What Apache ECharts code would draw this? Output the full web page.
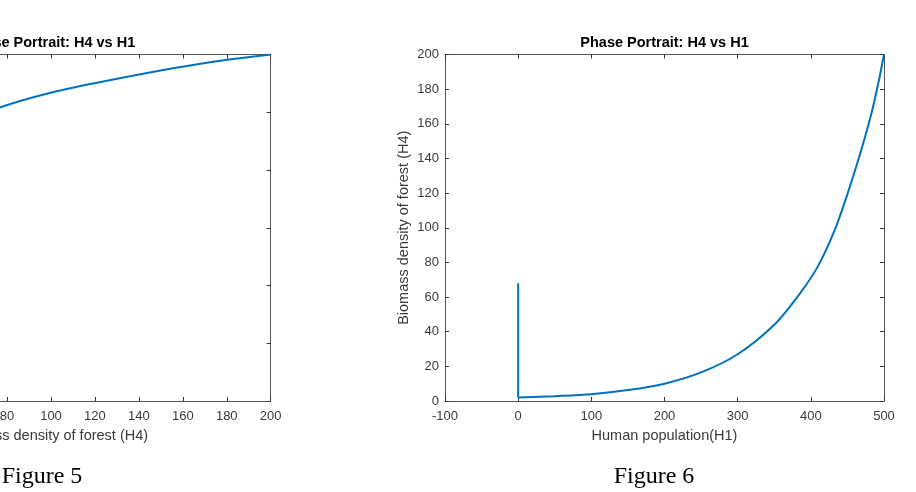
<!DOCTYPE html>
<html>
<head>
<meta charset="utf-8">
<script src="https://cdn.jsdelivr.net/npm/echarts@6/dist/echarts.min.js"></script>
<style>
  html, body { margin: 0; padding: 0; background: #fff; }
  #main { width: 916px; height: 492px; }
</style>
</head>
<body>
<div id="main"></div>
<script>
// values (H1 = human population, H4 = forest biomass)
var h1Drop = [0, 0];
var h4Drop = [68, 2];
var h1Curve = [0, 50, 100, 150, 200, 250, 300, 350, 385, 410, 433, 452, 469, 484, 493, 500];
var h4Curve = [2, 2.8, 3.9, 6.3, 10, 16.5, 27, 44, 62, 78, 99, 122, 145, 168, 185, 200];

var h1Ticks = { min: -100, max: 500, interval: 100 };
var h4Ticks = { min: 0, max: 200, interval: 20 };

var lineColor = '#0072BD';
var axisColor = '#555';
var labelColor = '#3a3a3a';
var sans = 'Liberation Sans, Arial, sans-serif';

var chart = echarts.init(document.getElementById('main'));

function pairs(xs, ys) {
    var out = [];
    for (var i = 0; i < xs.length; i++) out.push([xs[i], ys[i]]);
    return out;
}

// one axis of the boxed MATLAB-like frame
function makeAxis(grid, pos, range, withLabels, name, nameGap) {
    var ax = {
        type: 'value',
        gridIndex: grid,
        position: pos,
        min: range.min,
        max: range.max,
        interval: range.interval,
        splitLine: { show: false },
        axisLine: { show: true, onZero: false, lineStyle: { color: axisColor, width: 1 } },
        axisTick: { show: true, inside: true, length: 4, lineStyle: { color: '#333' } },
        axisLabel: { show: withLabels, color: labelColor, fontSize: 13, fontFamily: sans,
            margin: (pos === 'left' ? 6 : 9) }
    };
    if (name) {
        ax.name = name;
        ax.nameLocation = 'middle';
        ax.nameGap = nameGap;
        ax.nameTextStyle = { color: labelColor, fontSize: 14.5, fontFamily: sans };
    }
    return ax;
}

var options = {
    animation: false,
    backgroundColor: '#fff',
    grid: [
        { left: -168.7, top: 54.5, width: 439.4, height: 346.5, outerBoundsMode: 'none' },
        { left: 445, top: 54.5, width: 439, height: 346.5, outerBoundsMode: 'none' }
    ],
    xAxis: [
        makeAxis(0, 'bottom', h4Ticks, true, 'Biomass density of forest (H4)', 27),
        makeAxis(0, 'top', h4Ticks, false),
        makeAxis(1, 'bottom', h1Ticks, true, 'Human population(H1)', 27),
        makeAxis(1, 'top', h1Ticks, false)
    ],
    yAxis: [
        makeAxis(0, 'left', h1Ticks, true, 'Human population(H1)', 35),
        makeAxis(0, 'right', h1Ticks, false),
        makeAxis(1, 'left', h4Ticks, true, 'Biomass density of forest (H4)', 34),
        makeAxis(1, 'right', h4Ticks, false)
    ],
    series: [
        {
            type: 'line', xAxisIndex: 0, yAxisIndex: 0,
            data: pairs(h4Drop, h1Drop), showSymbol: false,
            lineStyle: { color: lineColor, width: 2 }
        },
        {
            type: 'line', xAxisIndex: 0, yAxisIndex: 0,
            data: pairs(h4Curve, h1Curve), showSymbol: false,
            smooth: 0.3,
            lineStyle: { color: lineColor, width: 2 }
        },
        {
            type: 'line', xAxisIndex: 2, yAxisIndex: 2,
            data: pairs(h1Drop, h4Drop), showSymbol: false,
            lineStyle: { color: lineColor, width: 2 }
        },
        {
            type: 'line', xAxisIndex: 2, yAxisIndex: 2,
            data: pairs(h1Curve, h4Curve), showSymbol: false,
            smooth: 0.3,
            lineStyle: { color: lineColor, width: 2 }
        }
    ],
    graphic: [
        { type: 'text', x: 51, y: 42.5,
          style: { text: 'Phase Portrait: H4 vs H1', fontSize: 14.5, fontWeight: 'bold', fontFamily: sans,
                   fill: '#000', align: 'center', verticalAlign: 'middle' } },
        { type: 'text', x: 664.5, y: 42.5,
          style: { text: 'Phase Portrait: H4 vs H1', fontSize: 14.5, fontWeight: 'bold', fontFamily: sans,
                   fill: '#000', align: 'center', verticalAlign: 'middle' } },
        { type: 'text', x: 42, y: 477,
          style: { text: 'Figure 5', fontSize: 24, fontFamily: 'Liberation Serif, Times New Roman, serif',
                   fill: '#000', align: 'center', verticalAlign: 'middle' } },
        { type: 'text', x: 654, y: 477,
          style: { text: 'Figure 6', fontSize: 24, fontFamily: 'Liberation Serif, Times New Roman, serif',
                   fill: '#000', align: 'center', verticalAlign: 'middle' } }
    ]
};

chart.setOption(options);
</script>
</body>
</html>
